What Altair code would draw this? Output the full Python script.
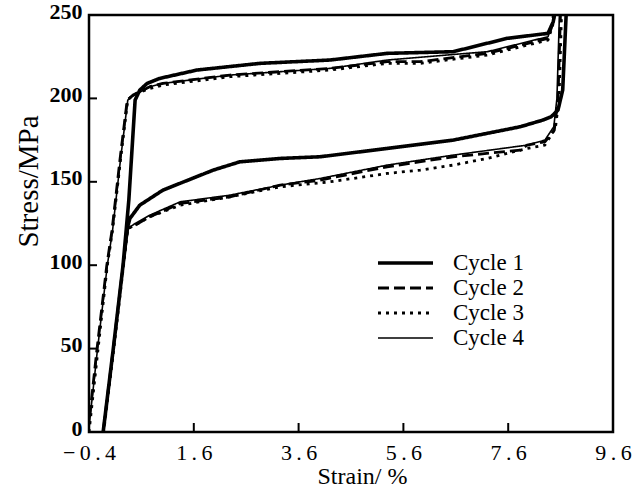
import altair as alt
import pandas as pd

# ---------------- data ----------------
x_ticks = [-0.4, 1.6, 3.6, 5.6, 7.6, 9.6]
y_ticks = [0, 50, 100, 150, 200, 250]
cycle_names = ["Cycle 1", "Cycle 2", "Cycle 3", "Cycle 4"]

cycle1_strain = [-0.13, 0.06, 0.25, 0.36, 0.48, 0.57, 0.71, 0.95, 1.66, 2.86, 4.20, 5.29, 6.55, 7.58, 8.36, 8.46, 8.50,
                 8.71, 8.64, 8.55, 8.42, 8.26, 7.83, 6.55, 5.29, 4.01, 3.25, 2.48, 1.97, 1.01, 0.57, 0.38, 0.33, 0.25, 0.06, -0.13]
cycle1_stress = [0, 49, 100, 139, 199, 205, 209, 212, 217, 221, 223, 227, 228, 236, 239, 246, 253,
                 253, 205, 193, 189, 187, 183, 175, 170, 165, 164, 162, 157, 145, 136, 128, 122, 100, 49, 0]

cycle2_strain = [-0.42, -0.25, -0.06, 0.04, 0.19, 0.33, 0.44, 0.76, 1.01, 2.29, 4.20, 5.29, 5.92, 7.20, 8.36, 8.44, 8.47,
                 8.60, 8.55, 8.48, 8.30, 7.96, 7.83, 6.55, 5.29, 4.01, 3.25, 2.29, 1.34, 0.76, 0.48, 0.34, 0.25, 0.06, -0.13]
cycle2_stress = [0, 49, 100, 121, 163, 199, 202, 207, 209, 214, 218, 222, 222, 227, 236, 244, 253,
                 253, 200, 181, 174, 172, 169, 165, 159, 151, 148, 141, 137, 129, 124, 122, 100, 49, 0]

cycle3_strain = [-0.40, -0.23, -0.05, 0.05, 0.20, 0.34, 0.44, 0.76, 1.01, 2.29, 4.20, 5.29, 5.92, 7.20, 8.36, 8.45, 8.50,
                 8.62, 8.57, 8.50, 8.30, 7.96, 7.20, 6.55, 5.92, 5.29, 4.20, 3.25, 2.29, 1.34, 0.76, 0.48, 0.34, 0.26, 0.07, -0.12]
cycle3_stress = [0, 49, 100, 121, 163, 199, 202, 206, 208, 213, 217, 221, 221, 226, 235, 244, 253,
                 253, 200, 182, 172, 170, 164, 160, 157, 155, 150, 147, 141, 136, 129, 124, 122, 100, 49, 0]

cycle4_strain = [-0.41, -0.24, -0.05, 0.05, 0.20, 0.34, 0.42, 0.76, 1.01, 2.29, 4.20, 5.29, 7.20, 8.36, 8.45, 8.48,
                 8.58, 8.53, 8.47, 8.30, 7.96, 6.55, 5.29, 4.01, 3.25, 2.29, 1.34, 0.76, 0.48, 0.34, 0.25, 0.06, -0.13]
cycle4_stress = [0, 49, 100, 121, 163, 199, 201, 207, 209, 214, 218, 223, 228, 237, 246, 253,
                 253, 200, 183, 175, 172, 166, 160, 152, 148, 142, 138, 130, 125, 122, 100, 49, 0]

# ---------------- styling ----------------
SERIF = "Liberation Serif, Times New Roman, serif"
line_styles = {
    "Cycle 1": dict(strokeWidth=3.6, strokeDash=[1, 0]),
    "Cycle 2": dict(strokeWidth=2.8, strokeDash=[11, 5]),
    "Cycle 3": dict(strokeWidth=2.8, strokeDash=[3, 5]),
    "Cycle 4": dict(strokeWidth=1.6, strokeDash=[1, 0]),
}
series = {
    "Cycle 1": (cycle1_strain, cycle1_stress),
    "Cycle 2": (cycle2_strain, cycle2_stress),
    "Cycle 3": (cycle3_strain, cycle3_stress),
    "Cycle 4": (cycle4_strain, cycle4_stress),
}

W, H = 524, 417

x_scale = alt.Scale(domain=[-0.4, 9.6], nice=False, zero=False)
y_scale = alt.Scale(domain=[0, 250], nice=False, zero=False)

x_axis = alt.Axis(
    values=x_ticks, ticks=False, domain=False, grid=False,
    labelFont=SERIF, labelFontSize=22, labelColor="black", labelPadding=10,
    labelFlush=False, labelOverlap=False,
    labelExpr="join(split(format(datum.value, '.1f'), ''), '\u2009')",
    title="Strain/ %", titleFont=SERIF, titleFontSize=24, titleFontWeight="normal",
    titleColor="black", titleX=273, titleY=51, titleBaseline="alphabetic", titleAnchor="middle",
)
y_axis = alt.Axis(
    values=y_ticks, ticks=False, domain=False, grid=False,
    labelFont=SERIF, labelFontSize=22, labelFontWeight="bold", labelColor="black", labelPadding=7,
    labelFlush=False, labelOverlap=False, labelOffset=-4,
    title="Stress/MPa", titleFont=SERIF, titleFontSize=29, titleFontWeight="normal",
    titleColor="black", titleX=-61, titleY=166, titleBaseline="middle", titleAlign="center", titleAngle=-90,
)

X = alt.X("strain:Q", scale=x_scale, axis=x_axis)
Y = alt.Y("stress:Q", scale=y_scale, axis=y_axis)

layers = []
for name in cycle_names:
    xs, ys = series[name]
    df = pd.DataFrame({"strain": xs, "stress": ys, "order": list(range(len(xs)))})
    st = line_styles[name]
    layers.append(
        alt.Chart(df).mark_line(color="black", clip=True, strokeJoin="round",
                                strokeWidth=st["strokeWidth"], strokeDash=st["strokeDash"])
        .encode(x=X, y=Y, order="order:Q")
    )

# inward ticks
xt = pd.DataFrame({"strain": x_ticks})
yt = pd.DataFrame({"stress": y_ticks})
layers.append(alt.Chart(xt).mark_rule(color="black", strokeWidth=2)
              .encode(x=X, y=alt.value(H), y2=alt.value(H - 9)))
layers.append(alt.Chart(yt).mark_rule(color="black", strokeWidth=2)
              .encode(y=Y, x=alt.value(0), x2=alt.value(8)))

# legend (drawn manually)
row_y = [248, 273, 298, 323]
for i, name in enumerate(cycle_names):
    st = line_styles[name]
    ld = pd.DataFrame({"label": [name]})
    layers.append(alt.Chart(ld).mark_rule(color="black", strokeWidth=st["strokeWidth"], strokeDash=st["strokeDash"])
                  .encode(x=alt.value(289), x2=alt.value(344), y=alt.value(row_y[i])))
    layers.append(alt.Chart(ld).mark_text(align="left", baseline="middle", font=SERIF, fontSize=23, color="black")
                  .encode(x=alt.value(364), y=alt.value(row_y[i]), text="label:N"))

chart = alt.layer(*layers).properties(
    width=W, height=H,
    padding={"left": 89, "top": 15, "right": 27, "bottom": 63},
    autosize=alt.AutoSizeParams(type="none"),
    background="white",
).configure_view(stroke="black", strokeWidth=2.5)

chart.save("out.html", embed_options={"renderer": "svg", "actions": False})
